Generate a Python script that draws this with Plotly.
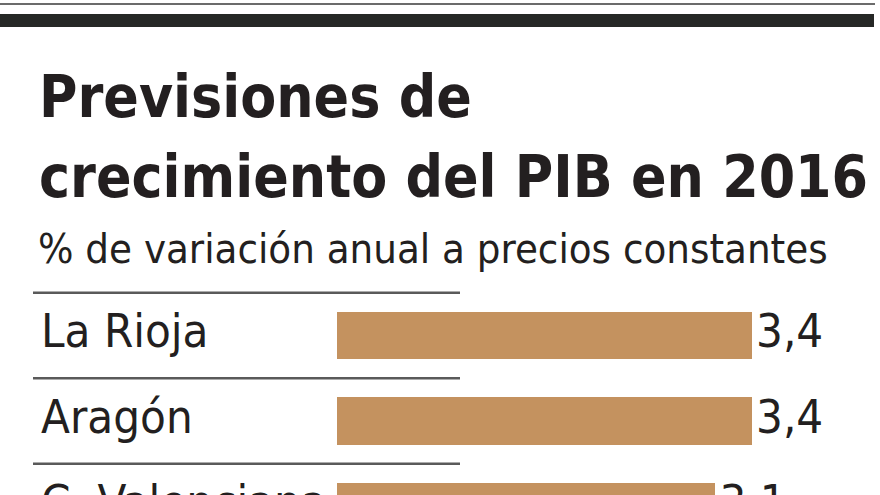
import plotly.graph_objects as go

# ---- data ----
regions = ["La Rioja", "Aragón", "C. Valenciana"]
growth = [3.4, 3.4, 3.1]
value_labels = ["3,4", "3,4", "3,1"]
title_lines = ["Previsiones de", "crecimiento del PIB en 2016"]
subtitle = "% de variación anual a precios constantes"

W, H = 880, 495
FONT = "DejaVu Sans Condensed, Roboto Condensed, Roboto, sans-serif"
BAR_COLOR = "#C4925F"
TEXT = "#231f20"

positions = list(range(len(regions)))

def py(px):
    return 1 - px / H

def pxx(px):
    return px / W

# x: 0 at px 337, 122.06 px per unit; y: row centres 335.5 + 85.5*i
x0_px, x_scale = 337.0, 122.06
y0_px, y_step = 335.5, 85.5
xr = [-x0_px / x_scale, (W - x0_px) / x_scale]
yr = [(H - y0_px) / y_step, -y0_px / y_step]
label_x = (41 - x0_px) / x_scale

fig = go.Figure()
fig.add_trace(go.Bar(
    x=growth, y=positions, orientation="h",
    width=0.55, marker=dict(color=BAR_COLOR, line=dict(width=0)),
    hoverinfo="skip", showlegend=False,
))
# value labels right of bars (invisible tiny marker gives a small gap)
fig.add_trace(go.Scatter(
    x=growth, y=positions, mode="markers+text", text=value_labels,
    marker=dict(size=4.8, opacity=0),
    textposition="middle right", cliponaxis=True,
    textfont=dict(family=FONT, size=47, color=TEXT),
    hoverinfo="skip", showlegend=False,
))
# region names on the left
fig.add_trace(go.Scatter(
    x=[label_x] * len(regions), y=positions, mode="text", text=regions,
    textposition="middle right", cliponaxis=True,
    textfont=dict(family=FONT, size=47, color=TEXT),
    hoverinfo="skip", showlegend=False,
))

fig.update_xaxes(range=xr, visible=False, fixedrange=True)
fig.update_yaxes(range=yr, visible=False, fixedrange=True)

shapes = [
    # top rules
    dict(type="rect", xref="paper", yref="paper", x0=0, x1=pxx(875), y0=py(5), y1=py(3),
         fillcolor="#6b6b6b", line=dict(width=0), layer="above"),
    dict(type="rect", xref="paper", yref="paper", x0=0, x1=pxx(874), y0=py(27), y1=py(14),
         fillcolor="#262826", line=dict(width=0), layer="above"),
]
# separators above each row
for i in positions:
    shapes.append(dict(type="line", xref="paper", yref="y", x0=pxx(33), x1=pxx(460),
                       y0=i - 0.5, y1=i - 0.5, line=dict(color="#5a5a5a", width=2.5)))

annotations = []
title_size = 58.3
title_base = [117, 197]
for line, b in zip(title_lines, title_base):
    annotations.append(dict(text=f"<b>{line}</b>", xref="paper", yref="paper",
                            x=pxx(37), y=py(b - 0.3465 * title_size), xanchor="left", yanchor="middle",
                            showarrow=False, font=dict(family=FONT, size=title_size, color=TEXT)))
sub_size = 41.5
annotations.append(dict(text=subtitle, xref="paper", yref="paper",
                        x=pxx(36), y=py(263 - 0.3465 * sub_size), xanchor="left", yanchor="middle",
                        showarrow=False, font=dict(family=FONT, size=sub_size, color=TEXT)))

fig.update_layout(
    width=W, height=H, margin=dict(l=0, r=0, t=0, b=0),
    paper_bgcolor="white", plot_bgcolor="white",
    shapes=shapes, annotations=annotations, bargap=0,
)
fig.write_html("out.html", config={"displayModeBar": False})
